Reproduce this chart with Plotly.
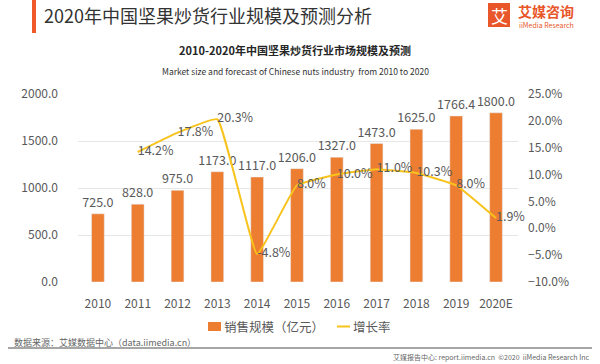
import plotly.graph_objects as go

years = ["2010", "2011", "2012", "2013", "2014", "2015", "2016", "2017", "2018", "2019", "2020E"]
sales = [725.0, 828.0, 975.0, 1173.0, 1117.0, 1206.0, 1327.0, 1473.0, 1625.0, 1766.4, 1800.0]
growth_years = years[1:]
growth = [14.2, 17.8, 20.3, -4.8, 8.0, 10.0, 11.0, 10.3, 8.0, 1.9]

W, H = 600, 364
L, R, T, B = 78, 518, 94, 282  # plot area in screen pixels


def px(x):
    return (x - L) / (R - L)


def py(y):
    return (B - y) / (B - T)


FONT = "Noto Sans CJK SC"
GRAY = "#595959"
ORANGE = "#ED7D31"
GOLD = "#F7C31C"

fig = go.Figure()
fig.add_trace(go.Bar(
    x=years, y=sales, name="销售规模（亿元）",
    marker_color=ORANGE, width=0.32,
    text=[f"{v:.1f}" for v in sales], textposition="outside",
    textfont=dict(size=12.5, color=GRAY, family=FONT),
    constraintext="none", cliponaxis=False,
))
fig.add_trace(go.Scatter(
    x=growth_years, y=growth, name="增长率", yaxis="y2",
    mode="lines+text", line=dict(color=GOLD, width=2, shape="spline", smoothing=0.3),
    text=[f"{v:.1f}%" for v in growth], textposition="middle right",
    textfont=dict(size=12.5, color=GRAY, family=FONT),
    cliponaxis=False,
))

fig.update_layout(
    width=W, height=H,
    margin=dict(l=L, r=W - R, t=T, b=H - B, autoexpand=False),
    paper_bgcolor="white", plot_bgcolor="white",
    font=dict(family=FONT, color=GRAY),
    showlegend=False,
    xaxis=dict(type="category", showgrid=False, showline=False, ticks="", automargin=False,
               tickfont=dict(size=12, color=GRAY, family=FONT), ticklabelstandoff=13),
    yaxis=dict(range=[0, 2000], dtick=500, tickformat=".1f", showgrid=True, automargin=False,
               gridcolor="#E6E6E6", gridwidth=1, zeroline=False, showline=False,
               tickfont=dict(size=12, color=GRAY, family=FONT), ticklabelstandoff=19),
    yaxis2=dict(range=[-10, 25], dtick=5, tickformat=".1f", ticksuffix="%", automargin=False,
                overlaying="y", side="right", showgrid=False, zeroline=False,
                tickfont=dict(size=12, color=GRAY, family=FONT), ticklabelstandoff=9),
)

shapes = [
    dict(type="rect", xref="paper", yref="paper", x0=px(32), x1=px(36), y0=py(0), y1=py(33),
         fillcolor="#F05A28", line_width=0),
    dict(type="rect", xref="paper", yref="paper", x0=px(488), x1=px(510), y0=py(3), y1=py(27),
         fillcolor="#E8562A", line_width=0),
    dict(type="line", xref="paper", yref="paper", x0=px(8), x1=px(592), y0=py(348), y1=py(348),
         line=dict(color="#A6A6A6", width=2)),
    # legend symbols
    dict(type="rect", xref="paper", yref="paper", x0=px(208), x1=px(221), y0=py(322), y1=py(331),
         fillcolor=ORANGE, line_width=0),
    dict(type="line", xref="paper", yref="paper", x0=px(337), x1=px(350), y0=py(326.5), y1=py(326.5),
         line=dict(color=GOLD, width=2)),
]
fig.update_layout(shapes=shapes)

ann = [
    dict(text="2020年中国坚果炒货行业规模及预测分析", x=px(42), y=py(15), xanchor="left", yanchor="middle",
         font=dict(size=18, color="#333333", family=FONT)),
    dict(text="艾", x=px(499), y=py(15), xanchor="center", yanchor="middle",
         font=dict(size=17, color="white", family=FONT)),
    dict(text="<b>艾媒咨询</b>", x=px(516), y=py(11), xanchor="left", yanchor="middle",
         font=dict(size=14, color="#E8562A", family=FONT)),
    dict(text="iiMedia Research", x=px(517), y=py(25), xanchor="left", yanchor="middle",
         font=dict(size=7, color="#E8562A", family=FONT)),
    dict(text="<b>2010-2020年中国坚果炒货行业市场规模及预测</b>", x=px(295), y=py(50), xanchor="center", yanchor="middle",
         font=dict(size=11, color="#262626", family=FONT)),
    dict(text="Market size and forecast of Chinese nuts industry  from 2010 to 2020", x=px(295), y=py(71),
         xanchor="center", yanchor="middle", font=dict(size=8.5, color="#333333", family=FONT)),
    dict(text="销售规模（亿元）", x=px(222), y=py(326.5), xanchor="left", yanchor="middle",
         font=dict(size=12.5, color=GRAY, family=FONT)),
    dict(text="增长率", x=px(351), y=py(326.5), xanchor="left", yanchor="middle",
         font=dict(size=12.5, color=GRAY, family=FONT)),
    dict(text="数据来源：艾媒数据中心（data.iimedia.cn）", x=px(12), y=py(342), xanchor="left", yanchor="middle",
         font=dict(size=9, color="#666666", family=FONT)),
    dict(text="艾媒报告中心: report.iimedia.cn  ©2020  iiMedia Research Inc", x=px(591), y=py(357),
         xanchor="right", yanchor="middle", font=dict(size=7, color="#666666", family=FONT)),
]
for a in ann:
    a.update(xref="paper", yref="paper", showarrow=False)
fig.update_layout(annotations=ann)

fig.write_html("out.html", config={"displayModeBar": False},
               post_script="document.body.style.margin='0px';")
